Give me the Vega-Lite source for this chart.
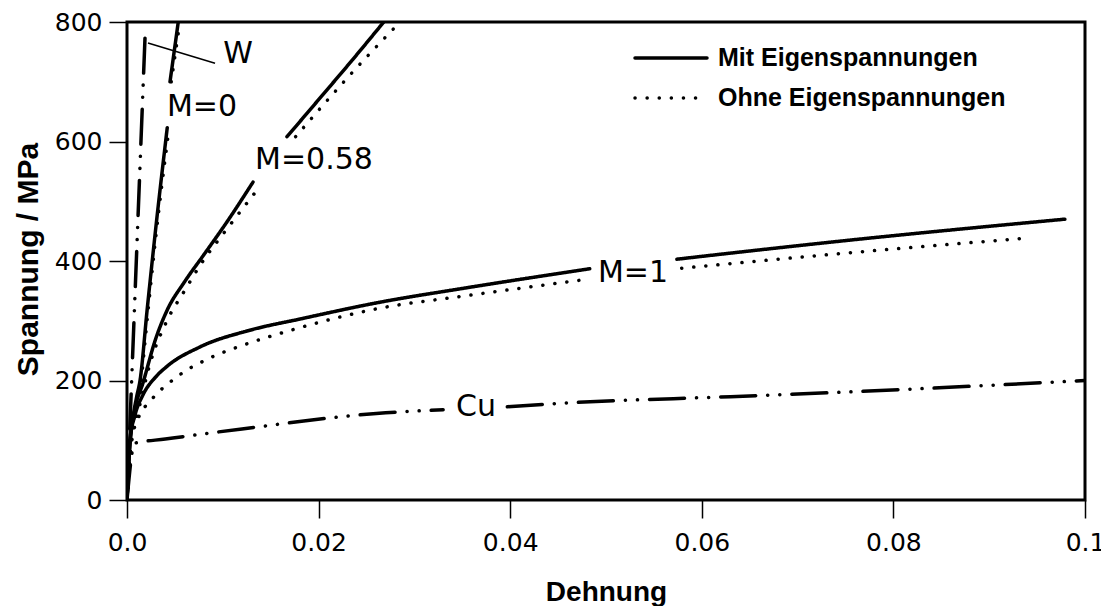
{
  "$schema": "https://vega.github.io/schema/vega-lite/v6.json",
  "width": 958,
  "height": 478,
  "autosize": "none",
  "padding": {"left": 127, "top": 22, "right": 16, "bottom": 106},
  "background": "white",
  "config": {
    "view": {"stroke": "black", "strokeWidth": 3},
    "axis": {
      "domain": false, "grid": false, "tickColor": "black", "tickWidth": 1.5, "tickSize": 18,
      "labelFont": "DejaVu Sans", "labelFontSize": 25, "labelColor": "black",
      "labelFlush": false, "labelOverlap": false,
      "titleFont": "Liberation Sans", "titleFontWeight": "bold", "titleColor": "black"
    }
  },
  "datasets": {
    "kurven": [
      {"serie": "W", "typ": "Referenz", "e": 0, "s": 0},
      {"serie": "W", "typ": "Referenz", "e": 0.0019, "s": 782},

      {"serie": "M0 Mit a", "typ": "Mit Eigenspannungen", "e": 0, "s": 0},
      {"serie": "M0 Mit a", "typ": "Mit Eigenspannungen", "e": 0.0003, "s": 90},
      {"serie": "M0 Mit a", "typ": "Mit Eigenspannungen", "e": 0.0006, "s": 135},
      {"serie": "M0 Mit a", "typ": "Mit Eigenspannungen", "e": 0.001, "s": 172},
      {"serie": "M0 Mit a", "typ": "Mit Eigenspannungen", "e": 0.00136, "s": 200},
      {"serie": "M0 Mit a", "typ": "Mit Eigenspannungen", "e": 0.0021, "s": 318},
      {"serie": "M0 Mit a", "typ": "Mit Eigenspannungen", "e": 0.0029, "s": 440},
      {"serie": "M0 Mit a", "typ": "Mit Eigenspannungen", "e": 0.0042, "s": 623},
      {"serie": "M0 Mit b", "typ": "Mit Eigenspannungen", "e": 0.00449, "s": 700},
      {"serie": "M0 Mit b", "typ": "Mit Eigenspannungen", "e": 0.00535, "s": 800},

      {"serie": "M0 Ohne a", "typ": "Ohne Eigenspannungen", "e": 0, "s": 0},
      {"serie": "M0 Ohne a", "typ": "Ohne Eigenspannungen", "e": 0.0004, "s": 88},
      {"serie": "M0 Ohne a", "typ": "Ohne Eigenspannungen", "e": 0.0008, "s": 138},
      {"serie": "M0 Ohne a", "typ": "Ohne Eigenspannungen", "e": 0.0013, "s": 178},
      {"serie": "M0 Ohne a", "typ": "Ohne Eigenspannungen", "e": 0.0022, "s": 318},
      {"serie": "M0 Ohne a", "typ": "Ohne Eigenspannungen", "e": 0.003, "s": 440},
      {"serie": "M0 Ohne a", "typ": "Ohne Eigenspannungen", "e": 0.00432, "s": 614},
      {"serie": "M0 Ohne b", "typ": "Ohne Eigenspannungen", "e": 0.00462, "s": 700},
      {"serie": "M0 Ohne b", "typ": "Ohne Eigenspannungen", "e": 0.00552, "s": 800},

      {"serie": "M058 Mit a", "typ": "Mit Eigenspannungen", "e": 0, "s": 0},
      {"serie": "M058 Mit a", "typ": "Mit Eigenspannungen", "e": 0.0003, "s": 95},
      {"serie": "M058 Mit a", "typ": "Mit Eigenspannungen", "e": 0.0008, "s": 150},
      {"serie": "M058 Mit a", "typ": "Mit Eigenspannungen", "e": 0.00167, "s": 196},
      {"serie": "M058 Mit a", "typ": "Mit Eigenspannungen", "e": 0.003, "s": 270},
      {"serie": "M058 Mit a", "typ": "Mit Eigenspannungen", "e": 0.0042, "s": 318},
      {"serie": "M058 Mit a", "typ": "Mit Eigenspannungen", "e": 0.006, "s": 365},
      {"serie": "M058 Mit a", "typ": "Mit Eigenspannungen", "e": 0.008, "s": 410},
      {"serie": "M058 Mit a", "typ": "Mit Eigenspannungen", "e": 0.0105, "s": 467},
      {"serie": "M058 Mit a", "typ": "Mit Eigenspannungen", "e": 0.01315, "s": 532},
      {"serie": "M058 Mit b", "typ": "Mit Eigenspannungen", "e": 0.0167, "s": 608},
      {"serie": "M058 Mit b", "typ": "Mit Eigenspannungen", "e": 0.02, "s": 670},
      {"serie": "M058 Mit b", "typ": "Mit Eigenspannungen", "e": 0.0235, "s": 736},
      {"serie": "M058 Mit b", "typ": "Mit Eigenspannungen", "e": 0.0268, "s": 800},

      {"serie": "M058 Ohne a", "typ": "Ohne Eigenspannungen", "e": 0, "s": 0},
      {"serie": "M058 Ohne a", "typ": "Ohne Eigenspannungen", "e": 0.0004, "s": 95},
      {"serie": "M058 Ohne a", "typ": "Ohne Eigenspannungen", "e": 0.0012, "s": 150},
      {"serie": "M058 Ohne a", "typ": "Ohne Eigenspannungen", "e": 0.0024, "s": 228},
      {"serie": "M058 Ohne a", "typ": "Ohne Eigenspannungen", "e": 0.0042, "s": 301},
      {"serie": "M058 Ohne a", "typ": "Ohne Eigenspannungen", "e": 0.006, "s": 350},
      {"serie": "M058 Ohne a", "typ": "Ohne Eigenspannungen", "e": 0.0076, "s": 392},
      {"serie": "M058 Ohne a", "typ": "Ohne Eigenspannungen", "e": 0.0105, "s": 455},
      {"serie": "M058 Ohne a", "typ": "Ohne Eigenspannungen", "e": 0.0136, "s": 519},
      {"serie": "M058 Ohne b", "typ": "Ohne Eigenspannungen", "e": 0.0176, "s": 608},
      {"serie": "M058 Ohne b", "typ": "Ohne Eigenspannungen", "e": 0.0232, "s": 710},
      {"serie": "M058 Ohne b", "typ": "Ohne Eigenspannungen", "e": 0.0285, "s": 800},

      {"serie": "M1 Mit a", "typ": "Mit Eigenspannungen", "e": 0, "s": 0},
      {"serie": "M1 Mit a", "typ": "Mit Eigenspannungen", "e": 0.0003, "s": 100},
      {"serie": "M1 Mit a", "typ": "Mit Eigenspannungen", "e": 0.0008, "s": 140},
      {"serie": "M1 Mit a", "typ": "Mit Eigenspannungen", "e": 0.00167, "s": 176},
      {"serie": "M1 Mit a", "typ": "Mit Eigenspannungen", "e": 0.003, "s": 206},
      {"serie": "M1 Mit a", "typ": "Mit Eigenspannungen", "e": 0.0042, "s": 224},
      {"serie": "M1 Mit a", "typ": "Mit Eigenspannungen", "e": 0.0076, "s": 256},
      {"serie": "M1 Mit a", "typ": "Mit Eigenspannungen", "e": 0.0128, "s": 284},
      {"serie": "M1 Mit a", "typ": "Mit Eigenspannungen", "e": 0.0181, "s": 303},
      {"serie": "M1 Mit a", "typ": "Mit Eigenspannungen", "e": 0.0264, "s": 331},
      {"serie": "M1 Mit a", "typ": "Mit Eigenspannungen", "e": 0.035, "s": 354},
      {"serie": "M1 Mit a", "typ": "Mit Eigenspannungen", "e": 0.0483, "s": 387},
      {"serie": "M1 Mit b", "typ": "Mit Eigenspannungen", "e": 0.0574, "s": 403},
      {"serie": "M1 Mit b", "typ": "Mit Eigenspannungen", "e": 0.0629, "s": 413},
      {"serie": "M1 Mit b", "typ": "Mit Eigenspannungen", "e": 0.0755, "s": 435},
      {"serie": "M1 Mit b", "typ": "Mit Eigenspannungen", "e": 0.0979, "s": 470},

      {"serie": "M1 Ohne a", "typ": "Ohne Eigenspannungen", "e": 0, "s": 0},
      {"serie": "M1 Ohne a", "typ": "Ohne Eigenspannungen", "e": 0.0005, "s": 100},
      {"serie": "M1 Ohne a", "typ": "Ohne Eigenspannungen", "e": 0.0012, "s": 138},
      {"serie": "M1 Ohne a", "typ": "Ohne Eigenspannungen", "e": 0.0024, "s": 165},
      {"serie": "M1 Ohne a", "typ": "Ohne Eigenspannungen", "e": 0.0052, "s": 206},
      {"serie": "M1 Ohne a", "typ": "Ohne Eigenspannungen", "e": 0.0087, "s": 238},
      {"serie": "M1 Ohne a", "typ": "Ohne Eigenspannungen", "e": 0.0121, "s": 259},
      {"serie": "M1 Ohne a", "typ": "Ohne Eigenspannungen", "e": 0.0173, "s": 285},
      {"serie": "M1 Ohne a", "typ": "Ohne Eigenspannungen", "e": 0.0264, "s": 321},
      {"serie": "M1 Ohne a", "typ": "Ohne Eigenspannungen", "e": 0.035, "s": 341},
      {"serie": "M1 Ohne a", "typ": "Ohne Eigenspannungen", "e": 0.0483, "s": 370},
      {"serie": "M1 Ohne b", "typ": "Ohne Eigenspannungen", "e": 0.0579, "s": 388},
      {"serie": "M1 Ohne b", "typ": "Ohne Eigenspannungen", "e": 0.0763, "s": 415},
      {"serie": "M1 Ohne b", "typ": "Ohne Eigenspannungen", "e": 0.0937, "s": 438},

      {"serie": "Cu a", "typ": "Referenz", "e": 0, "s": 0},
      {"serie": "Cu a", "typ": "Referenz", "e": 0.0008, "s": 95},
      {"serie": "Cu a", "typ": "Referenz", "e": 0.004, "s": 102},
      {"serie": "Cu a", "typ": "Referenz", "e": 0.012, "s": 119},
      {"serie": "Cu a", "typ": "Referenz", "e": 0.027, "s": 146},
      {"serie": "Cu a", "typ": "Referenz", "e": 0.033, "s": 151},
      {"serie": "Cu b", "typ": "Referenz", "e": 0.0397, "s": 156},
      {"serie": "Cu b", "typ": "Referenz", "e": 0.0455, "s": 162},
      {"serie": "Cu b", "typ": "Referenz", "e": 0.063, "s": 173},
      {"serie": "Cu b", "typ": "Referenz", "e": 0.0755, "s": 181},
      {"serie": "Cu b", "typ": "Referenz", "e": 0.1, "s": 200}
    ],
    "beschriftung": [
      {"label": "W", "e": 0.01159, "s": 746},
      {"label": "M=0", "e": 0.00783, "s": 658},
      {"label": "M=0.58", "e": 0.01952, "s": 569},
      {"label": "M=1", "e": 0.05282, "s": 380},
      {"label": "Cu", "e": 0.03643, "s": 156}
    ],
    "zeiger": [
      {"e": 0.00219, "s": 765, "e2": 0.00919, "s2": 731}
    ]
  },
  "layer": [
    {
      "data": {"name": "kurven"},
      "mark": {"type": "line", "color": "black", "strokeWidth": 3.5, "strokeCap": "round", "clip": true, "interpolate": "monotone"},
      "encoding": {
        "x": {
          "field": "e", "type": "quantitative", "title": "Dehnung",
          "scale": {"domain": [0, 0.1], "nice": false, "zero": false},
          "axis": {
            "values": [0, 0.02, 0.04, 0.06, 0.08, 0.1],
            "labelExpr": "datum.value === 0 ? '0.0' : format(datum.value, '.2~f')",
            "labelPadding": 12, "titleFontSize": 28, "titleY": 100, "titleBaseline": "alphabetic"
          }
        },
        "y": {
          "field": "s", "type": "quantitative", "title": "Spannung / MPa",
          "scale": {"domain": [0, 800], "nice": false},
          "axis": {
            "values": [0, 200, 400, 600, 800],
            "labelPadding": 7, "titleFontSize": 30, "titleAngle": 270,
            "titleX": -90, "titleY": 237, "titleBaseline": "alphabetic", "titleAlign": "center"
          }
        },
        "detail": {"field": "serie", "type": "nominal"},
        "strokeDash": {
          "field": "typ", "type": "nominal",
          "scale": {
            "domain": ["Mit Eigenspannungen", "Ohne Eigenspannungen", "Referenz"],
            "range": [[1, 0], [0.1, 12], [35, 12, 0.1, 12, 0.1, 12]]
          },
          "legend": {
            "values": ["Mit Eigenspannungen", "Ohne Eigenspannungen"],
            "title": null, "orient": "none", "legendX": 506, "legendY": 26,
            "padding": 0, "symbolType": "stroke", "symbolSize": 5184,
            "symbolStrokeWidth": 3.5, "symbolStrokeColor": "black",
            "clipHeight": 20,
            "labelFont": "Liberation Sans", "labelFontSize": 25, "labelFontWeight": "bold",
            "labelColor": "black", "labelOffset": 9, "labelLimit": 400, "rowPadding": 15,
            "encode": {"symbols": {"update": {"strokeCap": {"value": "round"}}}}
          }
        }
      }
    },
    {
      "data": {"name": "zeiger"},
      "mark": {"type": "rule", "color": "black", "strokeWidth": 1.5},
      "encoding": {
        "x": {"field": "e", "type": "quantitative", "title": "Dehnung"},
        "x2": {"field": "e2"},
        "y": {"field": "s", "type": "quantitative", "title": "Spannung / MPa"},
        "y2": {"field": "s2"}
      }
    },
    {
      "data": {"name": "beschriftung"},
      "mark": {"type": "text", "font": "DejaVu Sans", "fontSize": 30, "color": "black", "align": "center", "baseline": "middle"},
      "encoding": {
        "x": {"field": "e", "type": "quantitative", "title": "Dehnung"},
        "y": {"field": "s", "type": "quantitative", "title": "Spannung / MPa"},
        "text": {"field": "label"}
      }
    }
  ]
}
